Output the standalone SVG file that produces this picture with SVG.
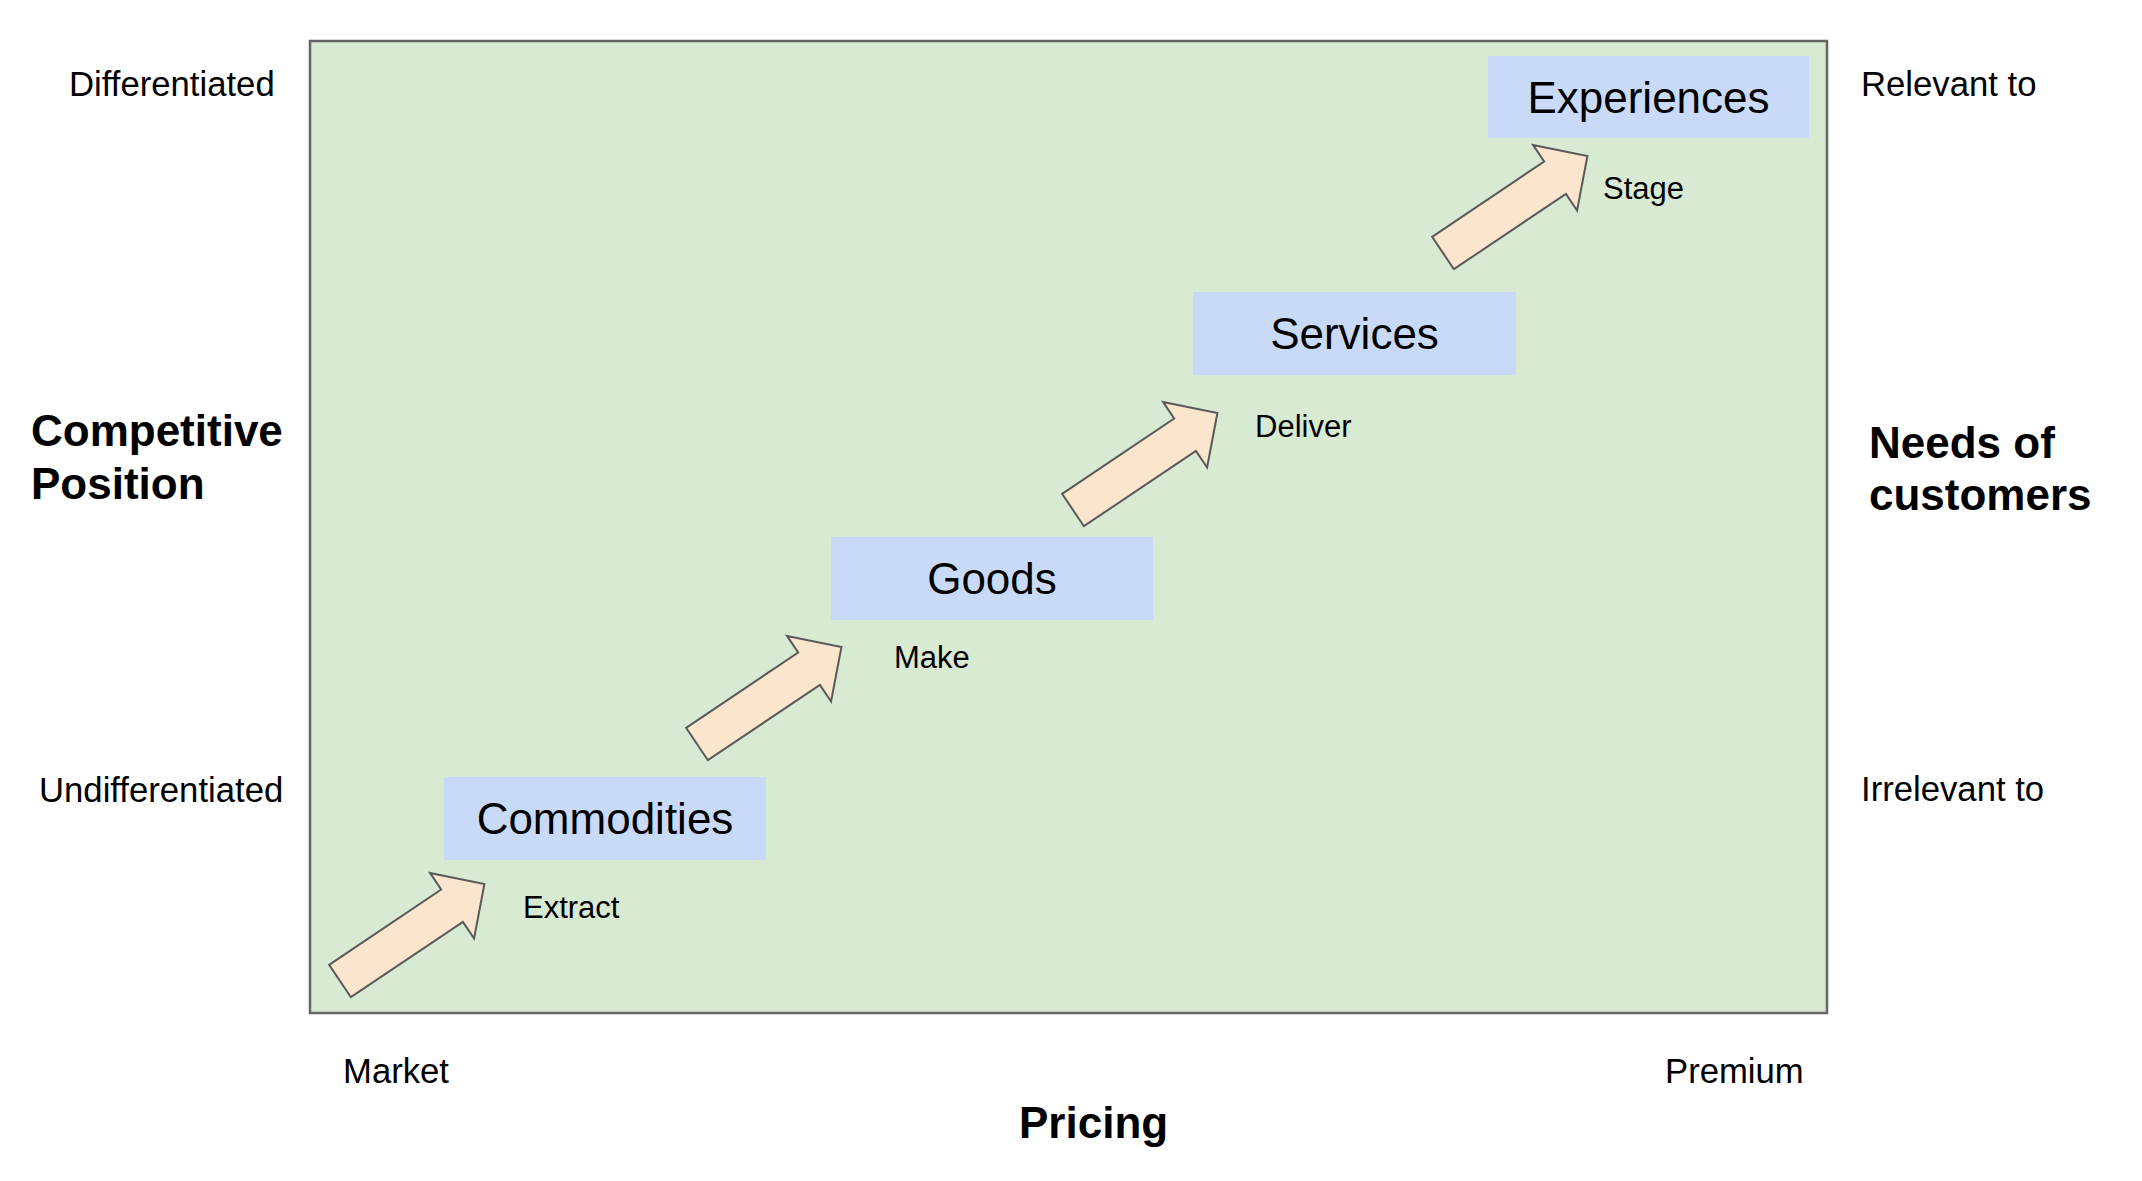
<svg xmlns="http://www.w3.org/2000/svg" xmlns:xlink="http://www.w3.org/1999/xlink" width="2142" height="1181" viewBox="0 0 2142 1181">
<style>
text { font-family: "Liberation Sans", Arial, sans-serif; fill: #000000; }
.axis { font-size: 34.7px; }
.title { font-size: 44px; font-weight: bold; }
.node-text { font-size: 44px; text-anchor: middle; }
.step { font-size: 31px; }
.box { fill: #c9daf8; }
.arrow { fill: #fce5cd; stroke: #595959; stroke-width: 2; stroke-linejoin: miter; }
</style>
<defs>
<path id="blockArrow" class="arrow" d="M0,-19.5 L135,-19.5 L135,-39.5 L174,0 L135,39.5 L135,19.5 L0,19.5 Z"/>
</defs>
<rect width="2142" height="1181" fill="#ffffff"/>
<g id="background">
<rect x="310" y="41" width="1517" height="972" fill="#d9ead3" stroke="#666666" stroke-width="2.5"/>
</g>
<g id="axis-labels">
<text class="axis" x="69" y="96">Differentiated</text>
<text class="axis" x="39" y="802">Undifferentiated</text>
<text class="title" x="31" y="446">Competitive</text>
<text class="title" x="31" y="499">Position</text>
<text class="axis" x="1861" y="96">Relevant to</text>
<text class="axis" x="1861" y="801">Irrelevant to</text>
<text class="title" x="1869" y="458">Needs of</text>
<text class="title" x="1869" y="510">customers</text>
<text class="axis" x="343" y="1083">Market</text>
<text class="axis" x="1665" y="1083">Premium</text>
<text class="title" x="1019" y="1138">Pricing</text>
</g>
<g id="connectors">
<use xlink:href="#blockArrow" href="#blockArrow" transform="translate(340,981) rotate(-33.9)"/>
<use xlink:href="#blockArrow" href="#blockArrow" transform="translate(697,744) rotate(-33.9)"/>
<use xlink:href="#blockArrow" href="#blockArrow" transform="translate(1073,510) rotate(-33.9)"/>
<use xlink:href="#blockArrow" href="#blockArrow" transform="translate(1443,253) rotate(-33.9)"/>
<text class="step" x="523" y="918">Extract</text>
<text class="step" x="894" y="668">Make</text>
<text class="step" x="1255" y="437">Deliver</text>
<text class="step" x="1603" y="199">Stage</text>
</g>
<g id="node-commodities">
<rect class="box" x="444" y="777" width="322" height="83"/>
<text class="node-text" x="605" y="834">Commodities</text>
</g>
<g id="node-goods">
<rect class="box" x="831" y="537" width="322" height="83"/>
<text class="node-text" x="992" y="594">Goods</text>
</g>
<g id="node-services">
<rect class="box" x="1193" y="292" width="323" height="83"/>
<text class="node-text" x="1354.5" y="349">Services</text>
</g>
<g id="node-experiences">
<rect class="box" x="1488" y="56" width="321" height="82"/>
<text class="node-text" x="1648.5" y="113">Experiences</text>
</g>
</svg>
